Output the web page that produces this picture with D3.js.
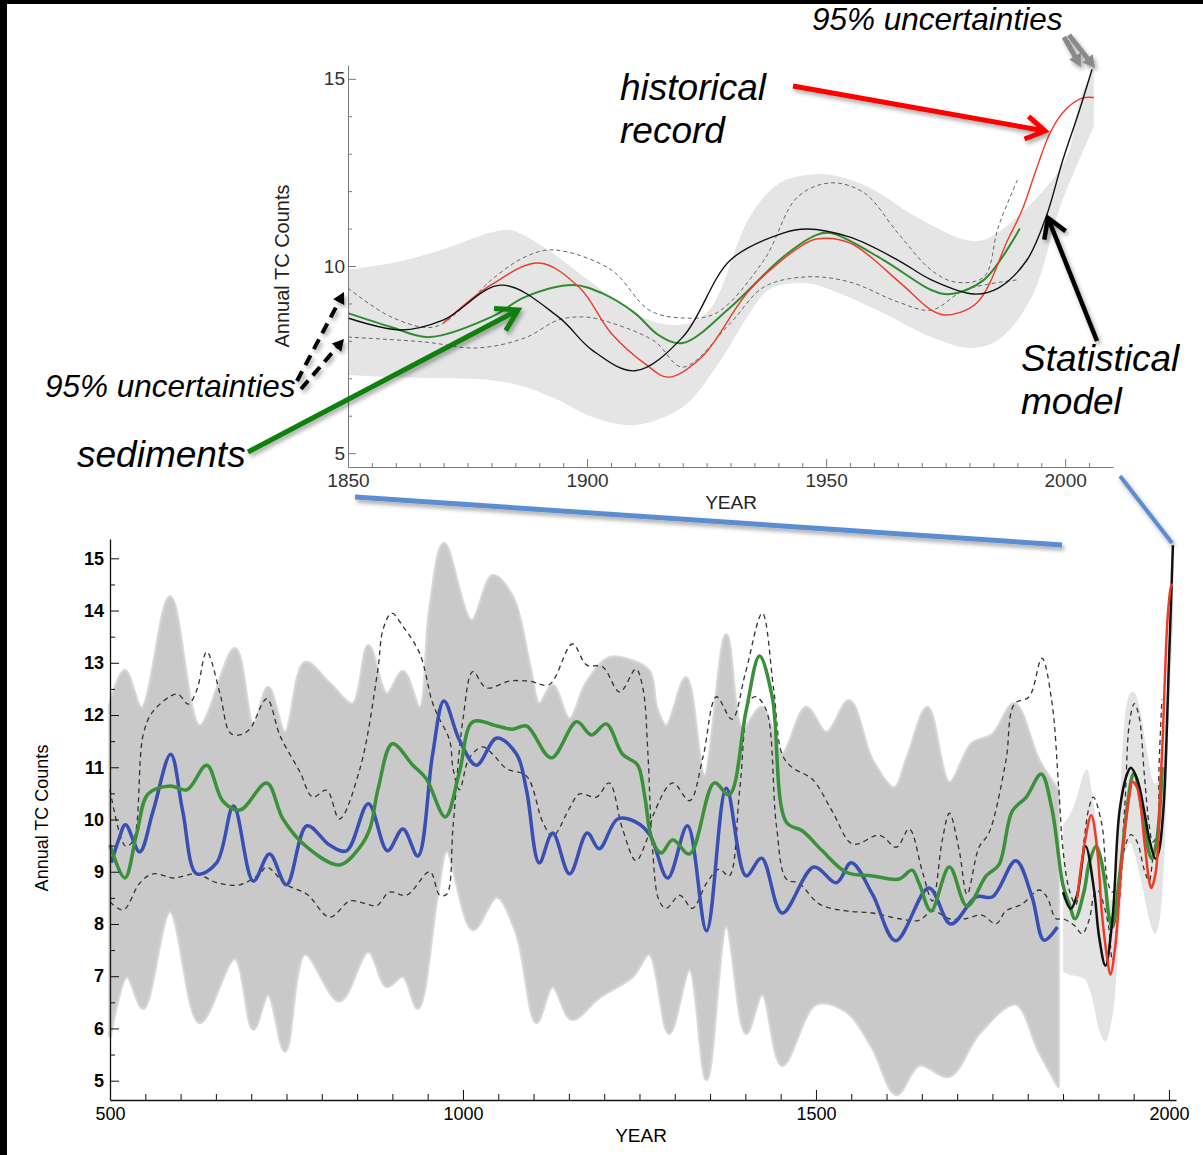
<!DOCTYPE html>
<html lang="en">
<head>
<meta charset="UTF-8">
<title>Annual TC Counts: sediments, historical record, statistical model</title>
<script src="https://d3js.org/d3.v7.min.js"></script>
<style>
  body { margin: 0; background: #fff; }
  svg { display: block; font-family: "Liberation Sans", Arial, Helvetica, sans-serif; }
  .note { font-style: italic; fill: #000; }
  .top-axis text { fill: #333; font-size: 19px; }
  .top-axis path, .top-axis line { stroke: #7a7a7a; }
  .bot-axis text { fill: #000; font-size: 18px; }
  .bot-axis path, .bot-axis line { stroke: #111; }
</style>
</head>
<body>
<div id="chart"></div>
<script>
// ---- data: [year, annual TC count] ----

// statistical model (black) and its 95% band
const modelLine = [[1850,8.61],[1861,8.29],[1870,8.56],[1882,9.49],[1894,8.64],[1901,7.76],[1910,7.2],
  [1920,8.1],[1930,10.16],[1941,10.88],[1946,10.99],[1955,10.77],[1965,10.16],[1972,9.63],[1981,9.25],
  [1986,9.41],[1992,10.16],[1996,11.31],[1999.5,12.83],[2003,14.17],[2005.6,15.25]];
const bandUpper = [[1850,9.9],[1860,10.1],[1870,10.45],[1880,10.9],[1884,10.96],[1891,10.5],[1901,9.55],
  [1909,8.8],[1916,8.45],[1922,8.5],[1926,8.9],[1934,11.3],[1940,12.2],[1946,12.43],[1951,12.43],
  [1959,12.1],[1969,11.3],[1979,10.7],[1983,10.7],[1990,11.31],[2000,12.83],[2003,14.4],[2006,15.35]];
const bandLower = [[1850,7.09],[1859,7.03],[1870,7.0],[1880,6.95],[1887,6.77],[1894,6.42],[1901,5.97],
  [1910,5.75],[1920,6.23],[1927,7.3],[1934,8.74],[1938,9.36],[1945,9.55],[1951,9.36],[1962,8.74],
  [1972,8.1],[1980,7.81],[1986,8.02],[1993,9.17],[1999,11.6],[2006,13.73]];

// historical record (red)
const histLine = [[1870,8.48],[1880,9.5],[1890,10.08],[1898.5,9.41],[1905,8.21],[1912.5,7.35],[1917,7.03],
  [1924,7.57],[1934,9.36],[1944.5,10.51],[1948,10.72],[1955,10.61],[1965.5,9.55],[1972,8.82],[1975,8.69],
  [1981.5,9.01],[1988,10.7],[1991,11.5],[1994,12.6],[1997,13.6],[2000,14.17],[2003.7,14.49],[2006,14.5]];

// sediments (green) and its two dashed 95% bounds
const sedLine = [[500,9.51],[521,8.88],[538,9.74],[554,10.49],[585,10.64],[609,10.57],[637,11.04],
  [660,10.35],[684,10.18],[722,10.7],[745,10.01],[779,9.47],[825,9.13],[854,9.47],[868,9.82],[880,10.6],
  [900,11.45],[929,11.04],[948,10.78],[975,10.05],[995,10.91],[1014,11.87],[1048,11.79],[1070,11.73],
  [1090,11.79],[1125,11.18],[1161,11.87],[1182,11.62],[1203,11.83],[1226,11.25],[1245,11.08],[1250,10.97],
  [1258,10.4],[1268,9.6],[1281,9.36],[1297,9.61],[1321,9.34],[1356,10.7],[1377,10.47],[1401,12.08],
  [1420,13.13],[1438,12.35],[1458,9.95],[1481,9.78],[1509,9.4],[1543,8.99],[1580,8.92],[1618,8.86],
  [1636,9.03],[1646,8.78],[1663,8.25],[1689,9.09],[1714,8.34],[1741,8.92],[1759,9.13],[1778,10.16],
  [1798,10.43],[1819,10.87],[1834,10.22],[1850,8.74],[1859,8.37],[1867,8.1],[1880,8.64],[1887,9.17],
  [1897,9.49],[1903,9.28],[1910,8.74],[1915,8.15],[1920,7.94],[1930,8.9],[1941,10.24],[1948,10.83],
  [1951,10.88],[1962,10.16],[1972,9.36],[1976,9.25],[1983,9.63],[1990.5,11.0]];
const sedBoundA = [[500,10.57],[522,9.49],[533,9.6],[547,11.62],[561,12.07],[595,12.4],[611,12.21],
  [623,12.48],[637,13.21],[656,12.4],[670,11.66],[684,11.62],[698,11.73],[722,12.31],[741,11.6],
  [769,10.91],[787,10.43],[807,10.56],[825,10.01],[854,10.97],[879,12.83],[887,13.65],[899,13.95],
  [915,13.7],[939,13.17],[956,12.27],[964,12.0],[981,11.52],[986,10.97],[995,10.57],[1009,11.18],
  [1028,11.39],[1042,11.25],[1062,10.97],[1090,10.83],[1113,9.95],[1127,9.68],[1151,10.22],[1165,10.49],
  [1189,10.43],[1207,10.7],[1226,9.82],[1245,9.21],[1260,9.6],[1270,10.1],[1297,10.7],[1321,10.36],
  [1340,11.2],[1359,12.35],[1381,11.92],[1400,12.8],[1424,13.95],[1440,12.5],[1452,11.25],[1466,11.0],
  [1495,10.77],[1523,10.16],[1552,9.53],[1590,9.7],[1614,9.47],[1632,9.82],[1651,8.99],[1665,8.44],
  [1679,9.61],[1689,10.12],[1703,9.4],[1714,8.57],[1731,9.47],[1745,9.74],[1769,11.12],[1781,12.21],
  [1802,12.35],[1820,13.09],[1834,12.27],[1844,10.57],[1850,9.41],[1859,8.64],[1868,8.37],[1875,9.01],
  [1880,9.63],[1887,10.24],[1893,10.43],[1905,9.9],[1913,8.82],[1920,8.61],[1927,8.74],[1937,10.16],
  [1944,11.84],[1951,12.22],[1958,11.95],[1965,10.88],[1972,9.89],[1977,9.57],[1983,9.71],[1986,11.04],
  [1990,12.3]];
const sedBoundB = [[500,8.42],[519,8.27],[542,8.78],[561,8.96],[590,8.88],[623,8.96],[651,8.79],
  [684,8.75],[712,8.96],[722,9.09],[750,8.75],[779,8.57],[811,8.13],[840,8.44],[864,8.38],[878,8.35],
  [896,8.61],[920,8.55],[953,9.0],[967,8.55],[977,8.57],[986,9.88],[1000,11.92],[1014,12.83],
  [1033,12.52],[1066,12.65],[1094,12.65],[1122,12.58],[1155,13.36],[1175,12.96],[1198,12.92],
  [1222,12.44],[1245,12.88],[1255,12.5],[1262,11.25],[1268,9.53],[1278,8.44],[1288,8.3],[1307,8.55],
  [1325,8.3],[1345,8.78],[1363,9.05],[1377,8.92],[1392,10.57],[1406,12.27],[1415,12.35],[1430,12.08],
  [1444,9.88],[1458,8.86],[1476,8.78],[1505,8.38],[1543,8.25],[1580,8.21],[1618,8.1],[1646,8.07],
  [1665,8.25],[1689,8.1],[1712,8.1],[1735,8.17],[1755,8.0],[1769,8.25],[1792,8.38],[1816,8.65],
  [1827,8.52],[1840,8.1],[1850,8.1],[1866,7.97],[1877,7.81],[1887,8.08],[1894,8.56],[1899,8.64],
  [1903,8.56],[1914,8.0],[1920,7.3],[1930,8.48],[1937,9.44],[1946,9.71],[1955,9.57],[1965,9.04],
  [1972,8.82],[1979,9.36],[1990,9.63]];

// second reconstruction (blue) and the ensemble spread (grey spaghetti)
const reconLine = [[502,9.17],[512,9.6],[522,9.9],[542,9.38],[561,10.16],[586,11.25],[603,10.16],
  [623,8.96],[651,9.17],[675,10.26],[703,8.82],[726,9.34],[750,8.75],[779,9.88],[811,9.51],[835,9.4],
  [866,10.3],[893,9.4],[915,9.82],[936,9.3],[957,11.25],[973,12.27],[995,11.52],[1019,11.04],
  [1048,11.56],[1076,11.25],[1090,10.56],[1108,9.17],[1127,9.74],[1151,8.96],[1176,9.74],[1193,9.44],
  [1219,10.01],[1245,9.95],[1265,9.7],[1290,8.88],[1318,9.88],[1345,7.87],[1373,10.6],[1401,8.92],
  [1423,9.26],[1452,8.21],[1497,9.09],[1529,8.79],[1550,9.17],[1580,8.57],[1613,7.68],[1660,8.69],
  [1691,8.0],[1727,8.52],[1750,8.52],[1783,9.21],[1806,8.52],[1823,7.69],[1842,7.94]];
const spreadUpper = [[500,12.2],[521,12.85],[545,12.13],[585,14.26],[627,11.79],[677,13.27],[703,11.8],
  [724,12.52],[748,11.66],[776,13.0],[811,12.6],[844,12.21],[866,13.32],[892,12.4],[915,12.83],
  [939,12.14],[953,13.99],[973,15.28],[1012,13.8],[1042,14.66],[1070,14.26],[1094,12.96],[1108,12.21],
  [1127,12.56],[1151,11.92],[1175,12.61],[1207,13.09],[1240,13.03],[1264,12.83],[1274,12.14],
  [1288,11.79],[1316,12.71],[1342,10.83],[1373,13.53],[1396,11.73],[1423,12.14],[1452,11.25],
  [1486,12.14],[1515,11.66],[1547,12.27],[1580,11.12],[1611,10.6],[1630,11.2],[1658,12.14],[1689,10.7],
  [1721,11.45],[1750,11.62],[1781,12.21],[1816,11.12],[1843,10.56]];
const spreadLower = [[500,5.85],[524,7.0],[547,6.39],[585,8.25],[627,6.12],[677,7.35],[703,5.99],
  [724,6.66],[748,5.57],[776,7.43],[825,6.53],[866,7.48],[892,6.81],[915,7.0],[936,6.39],[963,8.52],
  [977,9.4],[1014,7.9],[1048,8.52],[1076,7.83],[1104,6.12],[1127,6.81],[1154,6.18],[1193,6.6],
  [1240,7.0],[1264,7.43],[1292,5.91],[1321,7.14],[1345,5.03],[1373,7.96],[1401,5.91],[1424,6.66],
  [1452,5.3],[1500,6.47],[1543,6.33],[1580,5.64],[1614,4.74],[1646,5.3],[1689,5.09],[1731,5.91],
  [1783,6.47],[1816,5.57],[1843,4.9]];

// ticks
const topYMajor = [5, 10, 15];
const topYMinor = d3.range(5, 16).filter(v => v % 5 !== 0);
const topXMajor = [1850, 1900, 1950, 2000];
const topXMinor = d3.range(1855, 2010, 5).filter(v => v % 50 !== 0);
const botYMajor = d3.range(5, 16);
const botYMinor = d3.range(5.5, 15.5, 1);
const botXMajor = [500, 1000, 1500, 2000];
const botXMinor = d3.range(550, 2010, 50).filter(v => v % 500 !== 0);

const W = 1203, H = 1155;
const svg = d3.select("#chart").append("svg").attr("width", W).attr("height", H);

const defs = svg.append("defs");
defs.append("filter").attr("id", "shadow").attr("x", "-20%").attr("y", "-20%")
    .attr("width", "140%").attr("height", "160%")
  .append("feDropShadow").attr("dx", 2).attr("dy", 3).attr("stdDeviation", 2)
    .attr("flood-color", "#000").attr("flood-opacity", 0.35);

svg.append("rect").attr("width", W).attr("height", H).attr("fill", "#fff");

// scales
const topX = d3.scaleLinear().domain([1850, 2010]).range([348, 1113]);
const topY = d3.scaleLinear().domain([4.63, 15.37]).range([467, 65]);
const botX = d3.scaleLinear().domain([500, 2010]).range([110, 1176]);
const botY = d3.scaleLinear().domain([4.63, 15.37]).range([1100, 539]);

function lineGen(x, y) {
    return d3.line().x(d => x(d[0])).y(d => y(d[1])).curve(d3.curveCatmullRom.alpha(0.5));
}
function bandPath(upper, lower, x, y) {
    const g = lineGen(x, y);
    return g(upper) + "L" + g(lower.slice().reverse()).slice(1) + "Z";
}
const from1850 = s => s.filter(d => d[0] >= 1850);

// ================= bottom chart =================
const botG = svg.append("g");
const bl = lineGen(botX, botY);

// ensemble spread: soft halo then solid body
botG.append("path").attr("d", bandPath(spreadUpper, spreadLower, botX, botY))
    .attr("fill", "none").attr("stroke", "#dcdcdc").attr("stroke-width", 4)
    .attr("stroke-linejoin", "round");
botG.append("path").attr("d", bandPath(spreadUpper, spreadLower, botX, botY))
    .attr("fill", "#c9c9c9").attr("stroke", "#d0d0d0").attr("stroke-width", 1.5);
botG.append("path").attr("d", bandPath(bandUpper, bandLower, botX, botY))
    .attr("fill", "#e3e3e3");

[sedBoundA, sedBoundB].forEach(s => {
    botG.append("path").attr("d", bl(s)).attr("fill", "none")
        .attr("stroke", "#333").attr("stroke-width", 1.3).attr("stroke-dasharray", "5,4");
});
botG.append("path").attr("d", bl(reconLine)).attr("fill", "none")
    .attr("stroke", "#3a4fb4").attr("stroke-width", 3.5).attr("stroke-linejoin", "round");
botG.append("path").attr("d", bl(sedLine)).attr("fill", "none")
    .attr("stroke", "#3b903b").attr("stroke-width", 3.5).attr("stroke-linejoin", "round");
botG.append("path").attr("d", bl(modelLine)).attr("fill", "none")
    .attr("stroke", "#111").attr("stroke-width", 2.5);
botG.append("path").attr("d", bl(histLine)).attr("fill", "none")
    .attr("stroke", "#f03a25").attr("stroke-width", 2.5);

// bottom axes
const byAxis = botG.append("g").attr("class", "bot-axis").attr("transform", "translate(110,0)");
byAxis.call(d3.axisLeft(botY).tickValues(botYMajor).tickSizeInner(-9).tickSizeOuter(0).tickPadding(6));
byAxis.selectAll("text").attr("font-weight", "bold").attr("font-size", 17);
botG.append("g").attr("class", "bot-axis").attr("transform", "translate(110,0)")
    .call(d3.axisLeft(botY).tickValues(botYMinor).tickSizeInner(-5).tickSizeOuter(0).tickFormat(""))
    .select(".domain").remove();
botG.append("g").attr("class", "bot-axis").attr("transform", "translate(0,1100)")
    .call(d3.axisBottom(botX).tickValues(botXMajor).tickSizeInner(-10).tickSizeOuter(0).tickPadding(7)
        .tickFormat(d3.format("d")));
botG.append("g").attr("class", "bot-axis").attr("transform", "translate(0,1100)")
    .call(d3.axisBottom(botX).tickValues(botXMinor).tickSizeInner(-6).tickSizeOuter(0).tickFormat(""))
    .select(".domain").remove();
botG.selectAll(".bot-axis path.domain").attr("stroke-width", 1.3);

botG.append("text").attr("x", 641).attr("y", 1142).attr("text-anchor", "middle")
    .attr("font-size", 19).text("YEAR");
botG.append("text").attr("transform", "translate(48,818) rotate(-90)").attr("text-anchor", "middle")
    .attr("font-size", 18).text("Annual TC Counts");

// ================= top chart =================
const topG = svg.append("g");
const tl = lineGen(topX, topY);

topG.append("path").attr("d", bandPath(bandUpper, bandLower, topX, topY)).attr("fill", "#e5e5e5");
[sedBoundA, sedBoundB].forEach(s => {
    topG.append("path").attr("d", tl(from1850(s))).attr("fill", "none")
        .attr("stroke", "#666").attr("stroke-width", 1).attr("stroke-dasharray", "4,3");
});
topG.append("path").attr("d", tl(from1850(sedLine))).attr("fill", "none")
    .attr("stroke", "#2f8c2f").attr("stroke-width", 2);
topG.append("path").attr("d", tl(histLine)).attr("fill", "none")
    .attr("stroke", "#f03a25").attr("stroke-width", 1.4);
topG.append("path").attr("d", tl(modelLine)).attr("fill", "none")
    .attr("stroke", "#111").attr("stroke-width", 1.4);

topG.append("g").attr("class", "top-axis").attr("transform", "translate(348,0)")
    .call(d3.axisLeft(topY).tickValues(topYMajor).tickSizeInner(-8).tickSizeOuter(0).tickPadding(3));
topG.append("g").attr("class", "top-axis").attr("transform", "translate(348,0)")
    .call(d3.axisLeft(topY).tickValues(topYMinor).tickSizeInner(-4).tickSizeOuter(0).tickFormat(""))
    .select(".domain").remove();
topG.append("g").attr("class", "top-axis").attr("transform", "translate(0,467)")
    .call(d3.axisBottom(topX).tickValues(topXMajor).tickSizeInner(-8).tickSizeOuter(0).tickPadding(7)
        .tickFormat(d3.format("d")));
topG.append("g").attr("class", "top-axis").attr("transform", "translate(0,467)")
    .call(d3.axisBottom(topX).tickValues(topXMinor).tickSizeInner(-4).tickSizeOuter(0).tickFormat(""))
    .select(".domain").remove();

topG.append("text").attr("x", 731).attr("y", 509).attr("text-anchor", "middle")
    .attr("font-size", 19).attr("fill", "#222").text("YEAR");
topG.append("text").attr("transform", "translate(289,266) rotate(-90)").attr("text-anchor", "middle")
    .attr("font-size", 20).attr("fill", "#222").text("Annual TC Counts");

// ================= annotations =================
const ann = svg.append("g");

function arrow(p1, p2, color, width, head, opts = {}) {
    const g = ann.append("g").attr("filter", "url(#shadow)");
    const a = Math.atan2(p2[1] - p1[1], p2[0] - p1[0]);
    const spread = opts.spread || 0.55;
    const h1 = [p2[0] - head * Math.cos(a - spread), p2[1] - head * Math.sin(a - spread)];
    const h2 = [p2[0] - head * Math.cos(a + spread), p2[1] - head * Math.sin(a + spread)];
    const end = opts.solid ? [p2[0] - head * 0.8 * Math.cos(a), p2[1] - head * 0.8 * Math.sin(a)] : p2;
    g.append("line").attr("x1", p1[0]).attr("y1", p1[1]).attr("x2", end[0]).attr("y2", end[1])
        .attr("stroke", color).attr("stroke-width", width)
        .attr("stroke-dasharray", opts.dash || null);
    if (opts.solid) {
        g.append("path").attr("d", `M${h1}L${p2}L${h2}Z`).attr("fill", color);
    } else {
        g.append("path").attr("d", `M${h1}L${p2}L${h2}`).attr("fill", "none")
            .attr("stroke", color).attr("stroke-width", width).attr("stroke-linejoin", "miter");
    }
}

// zoom connectors
ann.append("line").attr("x1", 355).attr("y1", 497).attr("x2", 1062).attr("y2", 545)
    .attr("stroke", "#5b8ecf").attr("stroke-width", 5).attr("filter", "url(#shadow)");
ann.append("line").attr("x1", 1120).attr("y1", 476).attr("x2", 1172).attr("y2", 543)
    .attr("stroke", "#5b8ecf").attr("stroke-width", 4).attr("filter", "url(#shadow)");

arrow([793, 86], [1045, 131], "#ff0000", 5, 22);
arrow([248, 452], [518, 310], "#0b800b", 5, 24);
arrow([1097, 341], [1048, 218], "#000", 4.5, 22);
arrow([297, 381], [344, 292], "#000", 4, 13, { dash: "11,7", solid: true, spread: 0.5 });
arrow([301, 389], [344, 339], "#000", 4, 13, { dash: "11,7", solid: true, spread: 0.5 });
arrow([1064, 37], [1081, 67], "#8a8a8a", 5, 14, { solid: true, spread: 0.5 });
arrow([1069, 35], [1095, 68], "#8a8a8a", 5, 14, { solid: true, spread: 0.5 });

const notes = [
    { text: "95% uncertainties", x: 812, y: 30, size: 31.5 },
    { text: "historical", x: 620, y: 100, size: 37 },
    { text: "record", x: 620, y: 143, size: 37 },
    { text: "Statistical", x: 1021, y: 371, size: 37 },
    { text: "model", x: 1021, y: 414, size: 37 },
    { text: "95% uncertainties", x: 45, y: 397, size: 31.5 },
    { text: "sediments", x: 77, y: 467, size: 37 }
];
ann.selectAll("text.note").data(notes).enter().append("text")
    .attr("class", "note").attr("x", d => d.x).attr("y", d => d.y)
    .attr("font-size", d => d.size).text(d => d.text);

// black frame on top and left
svg.append("rect").attr("x", 0).attr("y", 0).attr("width", W).attr("height", 4).attr("fill", "#000");
svg.append("rect").attr("x", 0).attr("y", 0).attr("width", 7).attr("height", H).attr("fill", "#000");
</script>
</body>
</html>
